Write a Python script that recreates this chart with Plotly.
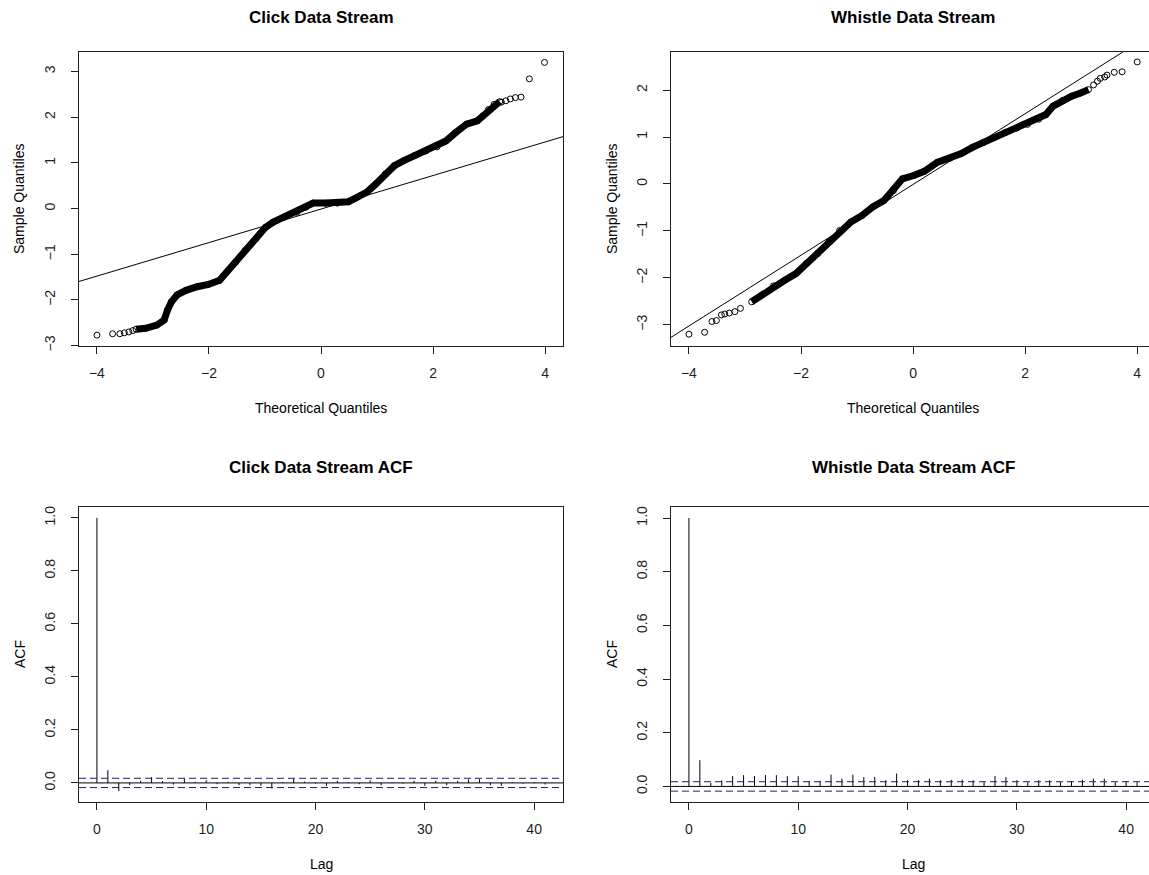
import plotly.graph_objects as go

W, H = 1149, 875

# ---------------- data ----------------
# Click Q-Q plot: dense band and individual tail points
click_band_theo = [-3.30, -3.13, -2.93, -2.80, -2.74, -2.67, -2.57, -2.41, -2.21, -2.01, -1.81, -1.68,
                   -1.52, -1.35, -1.16, -0.99, -0.86, -0.66, -0.43, -0.27, -0.14, 0.09, 0.29, 0.49,
                   0.65, 0.82, 0.98, 1.15, 1.31, 1.48, 1.67, 1.87, 2.07, 2.23, 2.40, 2.60, 2.79,
                   2.89, 2.99, 3.09, 3.19]
click_band_samp = [-2.64, -2.62, -2.55, -2.44, -2.22, -2.04, -1.89, -1.79, -1.71, -1.66, -1.57, -1.39,
                   -1.17, -0.91, -0.66, -0.41, -0.30, -0.19, -0.08, 0.03, 0.12, 0.12, 0.12, 0.15,
                   0.25, 0.36, 0.54, 0.76, 0.94, 1.05, 1.16, 1.26, 1.35, 1.48, 1.66, 1.85, 1.92,
                   2.03, 2.17, 2.28, 2.34]
click_tail_theo = [-4.00, -3.72, -3.59, -3.51, -3.43, -3.36, 3.22, 3.30, 3.38, 3.47, 3.57, 3.72, 3.99]
click_tail_samp = [-2.77, -2.74, -2.74, -2.72, -2.70, -2.67, 2.33, 2.36, 2.40, 2.43, 2.44, 2.84, 3.20]
click_qq_intercept = -0.01
click_qq_slope = 0.367

# Whistle Q-Q plot
whistle_band_theo = [-2.88, -2.69, -2.49, -2.29, -2.09, -1.90, -1.70, -1.50, -1.31, -1.11, -0.91,
                     -0.72, -0.52, -0.35, -0.19, 0.01, 0.20, 0.43, 0.66, 0.86, 1.06, 1.25, 1.45,
                     1.65, 1.85, 2.04, 2.24, 2.37, 2.50, 2.67, 2.83, 2.99, 3.13]
whistle_band_samp = [-2.51, -2.36, -2.17, -2.05, -1.91, -1.69, -1.48, -1.23, -0.99, -0.81, -0.67,
                     -0.49, -0.35, -0.14, 0.11, 0.18, 0.27, 0.46, 0.55, 0.65, 0.78, 0.88, 0.99,
                     1.10, 1.19, 1.27, 1.38, 1.48, 1.66, 1.78, 1.87, 1.94, 2.01]
whistle_tail_theo = [-4.00, -3.72, -3.59, -3.51, -3.42, -3.36, -3.28, -3.18, -3.08,
                     3.22, 3.29, 3.34, 3.42, 3.46, 3.59, 3.73, 4.00]
whistle_tail_samp = [-3.20, -3.16, -2.93, -2.91, -2.79, -2.77, -2.75, -2.72, -2.65,
                     2.11, 2.19, 2.25, 2.28, 2.32, 2.38, 2.39, 2.60]
whistle_qq_intercept = -0.01
whistle_qq_slope = 0.754

# ACF values, lags 0..41
lags = list(range(42))
click_acf = [1.0, 0.048, -0.031, -0.008, 0.008, 0.022, 0.007, -0.006, 0.016, 0.004, 0.010,
             -0.005, 0.004, -0.009, -0.009, -0.011, -0.021, 0.004, 0.016, 0.005, -0.003,
             -0.011, 0.008, 0.003, -0.005, 0.010, -0.009, 0.003, -0.003, 0.008, -0.011,
             0.008, -0.009, 0.008, 0.013, 0.014, -0.009, -0.011, 0.003, -0.003, 0.003, -0.006]
whistle_acf = [1.0, 0.098, 0.013, 0.023, 0.039, 0.042, 0.039, 0.042, 0.042, 0.038, 0.038,
               0.020, 0.020, 0.044, 0.029, 0.044, 0.035, 0.035, 0.023, 0.048, 0.023,
               0.023, 0.029, 0.023, 0.025, 0.025, 0.023, 0.016, 0.039, 0.035, 0.023,
               0.016, 0.023, 0.023, 0.016, 0.020, 0.025, 0.029, 0.029, 0.016, 0.020, 0.016]
conf_limit = 0.0175

qq_xticks = [-4, -2, 0, 2, 4]
click_yticks = [-3, -2, -1, 0, 1, 2, 3]
whistle_yticks = [-3, -2, -1, 0, 1, 2]
acf_xticks = [0, 10, 20, 30, 40]
acf_yticks = [0.0, 0.2, 0.4, 0.6, 0.8, 1.0]
acf_yticklabels = ["0.0", "0.2", "0.4", "0.6", "0.8", "1.0"]

titles = ["Click Data Stream", "Whistle Data Stream", "Click Data Stream ACF", "Whistle Data Stream ACF"]

# ---------------- layout geometry (pixels) ----------------
def fx(px):
    return px / W

def fy(py):
    return 1 - py / H

BOX_L = (79, 563)
BOX_R = (671, 1149)
BOX_T = (52, 346)
BOX_B = (507, 802)

INK = "#1e1e1e"
FONT = "Liberation Sans, Arial, sans-serif"

ranges = {
    "tl_x": [-4.32, 4.32], "tl_y": [-3.008, 3.428],
    "tr_x": [-4.32, 4.21], "tr_y": [-3.452, 2.812],
    "bl_x": [-1.64, 42.64], "bl_y": [-0.072, 1.041],
    "br_x": [-1.64, 42.09], "br_y": [-0.058, 1.041],
}

fig = go.Figure()

def qq_traces(band_x, band_y, tail_x, tail_y, a, b, xr, xa, ya):
    fig.add_trace(go.Scatter(x=band_x, y=band_y, mode="lines",
                             line=dict(color="black", width=7),
                             xaxis=xa, yaxis=ya, hoverinfo="skip"))
    fig.add_trace(go.Scatter(x=band_x + tail_x, y=band_y + tail_y, mode="markers",
                             marker=dict(symbol="circle-open", size=6, color="black",
                                         line=dict(width=1, color="black")),
                             xaxis=xa, yaxis=ya))
    fig.add_trace(go.Scatter(x=xr, y=[a + b * v for v in xr], mode="lines",
                             line=dict(color="black", width=1),
                             xaxis=xa, yaxis=ya, hoverinfo="skip"))

qq_traces(click_band_theo, click_band_samp, click_tail_theo, click_tail_samp,
          click_qq_intercept, click_qq_slope, ranges["tl_x"], "x", "y")
qq_traces(whistle_band_theo, whistle_band_samp, whistle_tail_theo, whistle_tail_samp,
          whistle_qq_intercept, whistle_qq_slope, ranges["tr_x"], "x2", "y2")

def acf_traces(vals, xr, xa, ya):
    xs, ys = [], []
    for k, v in zip(lags, vals):
        xs += [k, k, None]
        ys += [0, v, None]
    fig.add_trace(go.Scatter(x=xs, y=ys, mode="lines", line=dict(color="black", width=1),
                             xaxis=xa, yaxis=ya, hoverinfo="skip"))
    fig.add_trace(go.Scatter(x=xr, y=[0, 0], mode="lines", line=dict(color="black", width=1),
                             xaxis=xa, yaxis=ya, hoverinfo="skip"))
    for c in (conf_limit, -conf_limit):
        fig.add_trace(go.Scatter(x=xr, y=[c, c], mode="lines",
                                 line=dict(color="#1c1c78", width=1, dash="7px,4px"),
                                 xaxis=xa, yaxis=ya, hoverinfo="skip"))

acf_traces(click_acf, ranges["bl_x"], "x3", "y3")
acf_traces(whistle_acf, ranges["br_x"], "x4", "y4")

def axis(domain, rng, ticks, anchor, mirror, vertical=False, ticktext=None):
    d = dict(domain=domain, range=rng, tickvals=ticks, anchor=anchor,
             showline=True, linecolor=INK, linewidth=1, mirror=mirror,
             ticks="outside", ticklen=7, tickcolor=INK, tickwidth=1,
             showgrid=False, zeroline=False, fixedrange=True, automargin=False,
             tickfont=dict(family=FONT, size=14, color=INK))
    if ticktext is not None:
        d["ticktext"] = ticktext
    if vertical:
        d["tickangle"] = -90
        d["ticklabelstandoff"] = 10
    else:
        d["ticklabelstandoff"] = 7
    return d

xd_l = [fx(BOX_L[0]), fx(BOX_L[1])]
xd_r = [fx(BOX_R[0]), fx(BOX_R[1])]
yd_t = [fy(BOX_T[1]), fy(BOX_T[0])]
yd_b = [fy(BOX_B[1]), fy(BOX_B[0])]

fig.update_layout(
    width=W, height=H,
    margin=dict(l=0, r=0, t=0, b=0, pad=0),
    paper_bgcolor="white", plot_bgcolor="white",
    showlegend=False,
    xaxis=axis(xd_l, ranges["tl_x"], qq_xticks, "y", True),
    yaxis=axis(yd_t, ranges["tl_y"], click_yticks, "x", True, vertical=True),
    xaxis2=axis(xd_r, ranges["tr_x"], qq_xticks, "y2", True),
    yaxis2=axis(yd_t, ranges["tr_y"], whistle_yticks, "x2", False, vertical=True),
    xaxis3=axis(xd_l, ranges["bl_x"], acf_xticks, "y3", True),
    yaxis3=axis(yd_b, ranges["bl_y"], acf_yticks, "x3", True, vertical=True, ticktext=acf_yticklabels),
    xaxis4=axis(xd_r, ranges["br_x"], acf_xticks, "y4", True),
    yaxis4=axis(yd_b, ranges["br_y"], acf_yticks, "x4", False, vertical=True, ticktext=acf_yticklabels),
)

def label(text, px, py, size=14, bold=False, angle=0):
    fig.add_annotation(text=f"<b>{text}</b>" if bold else text,
                       x=fx(px), y=fy(py), xref="paper", yref="paper",
                       showarrow=False, textangle=angle, xanchor="center", yanchor="middle",
                       font=dict(family=FONT, size=size, color="black"))

cx_l = (BOX_L[0] + BOX_L[1]) / 2
cx_r = (671 + 1155) / 2
label(titles[0], cx_l, 17, 17, True)
label(titles[1], cx_r, 17, 17, True)
label(titles[2], cx_l, 467, 17, True)
label(titles[3], cx_r, 467, 17, True)
label("Theoretical Quantiles", cx_l, 408)
label("Theoretical Quantiles", cx_r, 408)
label("Lag", cx_l, 864)
label("Lag", cx_r, 864)
label("Sample Quantiles", 19, 199, angle=-90)
label("Sample Quantiles", 612, 199, angle=-90)
label("ACF", 20, 654, angle=-90)
label("ACF", 612, 654, angle=-90)

fig.write_html("out.html")
